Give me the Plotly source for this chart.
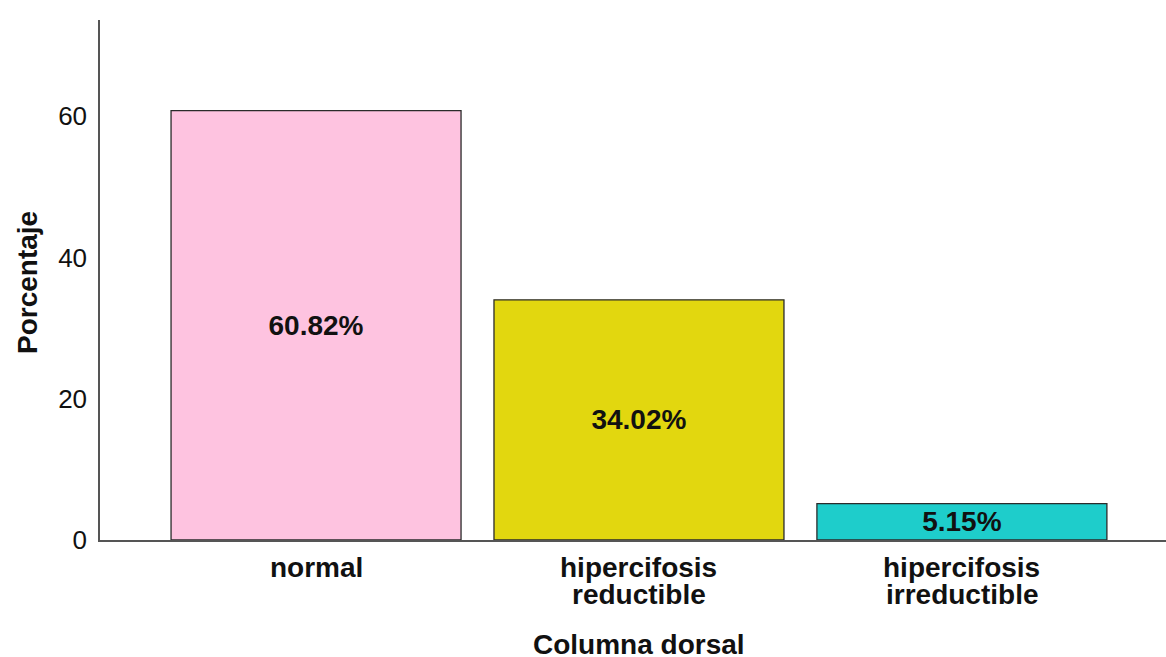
import plotly.graph_objects as go

# Distribution of dorsal spine classification
category_lines = [["normal"], ["hipercifosis", "reductible"], ["hipercifosis", "irreductible"]]
percentages = [60.82, 34.02, 5.15]
bar_colors = ["#FEC3E0", "#E2D70F", "#1ECDCB"]
y_ticks = [0, 20, 40, 60]

positions = list(range(len(category_lines)))
labels = [f"{v:.2f}%" for v in percentages]

BOLD = dict(family="Liberation Sans", size=28, weight="bold", color="#111111")

fig = go.Figure(
    go.Bar(
        x=positions,
        y=percentages,
        width=0.898,
        marker=dict(color=bar_colors, line=dict(color="#2b2b2b", width=1.3)),
        text=labels,
        textposition="inside",
        insidetextanchor="middle",
        constraintext="none",
        textangle=0,
        textfont=BOLD,
        hoverinfo="skip",
    )
)

# Category labels, one annotation per line for tight line spacing
annotations = []
for pos, lines in zip(positions, category_lines):
    for i, line in enumerate(lines):
        annotations.append(
            dict(
                text=line,
                xref="x",
                yref="paper",
                x=pos,
                y=0,
                yshift=-27 - 27 * i,
                yanchor="middle",
                showarrow=False,
                font=BOLD,
            )
        )

# Axis titles
annotations.append(
    dict(
        text="Columna dorsal",
        xref="x",
        yref="paper",
        x=1,
        y=0,
        yshift=-104,
        yanchor="middle",
        showarrow=False,
        font=BOLD,
    )
)
annotations.append(
    dict(
        text="Porcentaje",
        xref="paper",
        yref="paper",
        x=0,
        y=0.5,
        xshift=-73,
        yshift=-3,
        xanchor="center",
        yanchor="middle",
        textangle=-90,
        showarrow=False,
        font=BOLD,
    )
)

fig.update_layout(
    width=1166,
    height=657,
    margin=dict(l=100, r=0, t=20, b=117),
    paper_bgcolor="white",
    plot_bgcolor="white",
    showlegend=False,
    font=dict(family="Liberation Sans", color="#111111"),
    xaxis=dict(
        range=[-0.669, 2.632],
        tickvals=positions,
        showticklabels=False,
        showline=True,
        linecolor="#555555",
        linewidth=1.5,
        ticks="",
        showgrid=False,
        zeroline=False,
        fixedrange=True,
    ),
    yaxis=dict(
        range=[0, 73.65],
        tickmode="array",
        tickvals=y_ticks,
        tickfont=dict(size=26, color="#111111"),
        showline=True,
        linecolor="#555555",
        linewidth=1.5,
        ticks="",
        ticklabelstandoff=6,
        showgrid=False,
        zeroline=False,
        fixedrange=True,
    ),
    annotations=annotations,
)

fig.write_html("out.html")
